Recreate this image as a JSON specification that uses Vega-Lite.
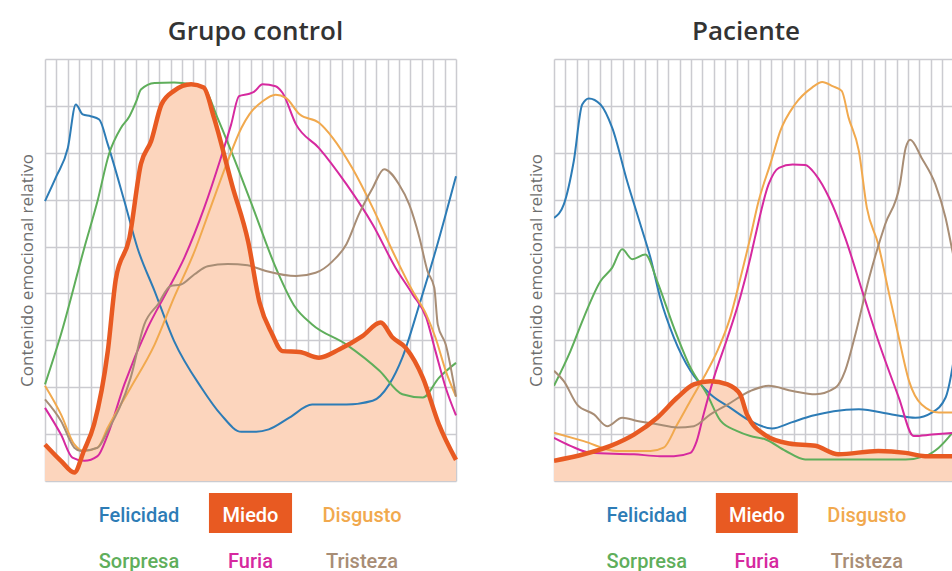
{
  "$schema": "https://vega.github.io/schema/vega-lite/v6.json",
  "background": "white",
  "padding": {"left": 18, "top": 19, "right": 0, "bottom": 0},
  "config": {
    "view": {"stroke": null},
    "font": "Open Sans",
    "axis": {"labels": false, "ticks": false, "domain": false, "grid": true, "gridColor": "#cbcbd0", "gridWidth": 1.5, "minExtent": 0, "maxExtent": 0},
    "axisY": {"titleFont": "Open Sans", "titleFontSize": 17, "titleFontWeight": "normal", "titleColor": "#6e6e6e", "titlePadding": 9}
  },
  "datasets": {
    "control": [
      {"emocion":"Felicidad","t":0,"valor":5.97},{"emocion":"Felicidad","t":1,"valor":6.5},{"emocion":"Felicidad","t":2,"valor":7.1},{"emocion":"Felicidad","t":2.7,"valor":8.03},{"emocion":"Felicidad","t":3.3,"valor":7.82},{"emocion":"Felicidad","t":4,"valor":7.78},{"emocion":"Felicidad","t":4.75,"valor":7.71},{"emocion":"Felicidad","t":5.5,"valor":7.18},{"emocion":"Felicidad","t":6.95,"valor":5.97},{"emocion":"Felicidad","t":8.1,"valor":4.97},{"emocion":"Felicidad","t":9.6,"valor":4.05},{"emocion":"Felicidad","t":11.3,"valor":2.99},{"emocion":"Felicidad","t":13.7,"valor":1.99},{"emocion":"Felicidad","t":15.4,"valor":1.42},{"emocion":"Felicidad","t":17.2,"valor":1.05},{"emocion":"Felicidad","t":18.5,"valor":1.05},{"emocion":"Felicidad","t":19.6,"valor":1.1},{"emocion":"Felicidad","t":21.4,"valor":1.35},{"emocion":"Felicidad","t":23.4,"valor":1.63},{"emocion":"Felicidad","t":26.4,"valor":1.63},{"emocion":"Felicidad","t":28.7,"valor":1.71},{"emocion":"Felicidad","t":30.15,"valor":2.06},{"emocion":"Felicidad","t":31.3,"valor":2.63},{"emocion":"Felicidad","t":32.8,"valor":3.77},{"emocion":"Felicidad","t":34.2,"valor":4.9},{"emocion":"Felicidad","t":36,"valor":6.5},
      {"emocion":"Miedo","t":0,"valor":0.78},{"emocion":"Miedo","t":1.4,"valor":0.43},{"emocion":"Miedo","t":2.57,"valor":0.18},{"emocion":"Miedo","t":3.4,"valor":0.64},{"emocion":"Miedo","t":4.3,"valor":1.21},{"emocion":"Miedo","t":5.5,"valor":2.77},{"emocion":"Miedo","t":6.2,"valor":4.3},{"emocion":"Miedo","t":7.4,"valor":5.19},{"emocion":"Miedo","t":8.4,"valor":6.76},{"emocion":"Miedo","t":9.3,"valor":7.25},{"emocion":"Miedo","t":10.2,"valor":8.03},{"emocion":"Miedo","t":11.3,"valor":8.32},{"emocion":"Miedo","t":12.8,"valor":8.46},{"emocion":"Miedo","t":13.9,"valor":8.39},{"emocion":"Miedo","t":14.8,"valor":7.75},{"emocion":"Miedo","t":16.4,"valor":6.3},{"emocion":"Miedo","t":17.8,"valor":5.1},{"emocion":"Miedo","t":18.8,"valor":3.8},{"emocion":"Miedo","t":19.9,"valor":3.13},{"emocion":"Miedo","t":20.8,"valor":2.77},{"emocion":"Miedo","t":22.3,"valor":2.75},{"emocion":"Miedo","t":24,"valor":2.63},{"emocion":"Miedo","t":25.8,"valor":2.81},{"emocion":"Miedo","t":27.8,"valor":3.09},{"emocion":"Miedo","t":29.4,"valor":3.38},{"emocion":"Miedo","t":30.45,"valor":3.06},{"emocion":"Miedo","t":31.6,"valor":2.84},{"emocion":"Miedo","t":33.1,"valor":2.2},{"emocion":"Miedo","t":34.5,"valor":1.21},{"emocion":"Miedo","t":36,"valor":0.45},
      {"emocion":"Sorpresa","t":0,"valor":2.06},{"emocion":"Sorpresa","t":1.4,"valor":3.13},{"emocion":"Sorpresa","t":3.44,"valor":4.97},{"emocion":"Sorpresa","t":4.6,"valor":5.97},{"emocion":"Sorpresa","t":5.6,"valor":6.97},{"emocion":"Sorpresa","t":6.65,"valor":7.53},{"emocion":"Sorpresa","t":7.4,"valor":7.78},{"emocion":"Sorpresa","t":8,"valor":8.1},{"emocion":"Sorpresa","t":8.4,"valor":8.35},{"emocion":"Sorpresa","t":9.6,"valor":8.49},{"emocion":"Sorpresa","t":11.3,"valor":8.5},{"emocion":"Sorpresa","t":12.8,"valor":8.46},{"emocion":"Sorpresa","t":13.9,"valor":8.39},{"emocion":"Sorpresa","t":15.1,"valor":7.75},{"emocion":"Sorpresa","t":16.3,"valor":7.04},{"emocion":"Sorpresa","t":18,"valor":5.97},{"emocion":"Sorpresa","t":20.3,"valor":4.5},{"emocion":"Sorpresa","t":21.8,"valor":3.75},{"emocion":"Sorpresa","t":23.4,"valor":3.34},{"emocion":"Sorpresa","t":26.4,"valor":2.91},{"emocion":"Sorpresa","t":29.3,"valor":2.35},{"emocion":"Sorpresa","t":31.3,"valor":1.85},{"emocion":"Sorpresa","t":33.1,"valor":1.78},{"emocion":"Sorpresa","t":34.5,"valor":2.2},{"emocion":"Sorpresa","t":36,"valor":2.52},
      {"emocion":"Furia","t":0,"valor":1.56},{"emocion":"Furia","t":1.4,"valor":0.99},{"emocion":"Furia","t":2.4,"valor":0.5},{"emocion":"Furia","t":3.44,"valor":0.43},{"emocion":"Furia","t":4.6,"valor":0.53},{"emocion":"Furia","t":5.5,"valor":0.99},{"emocion":"Furia","t":6.95,"valor":2.06},{"emocion":"Furia","t":9,"valor":3.27},{"emocion":"Furia","t":10.7,"valor":4.05},{"emocion":"Furia","t":12.2,"valor":4.76},{"emocion":"Furia","t":13.95,"valor":5.83},{"emocion":"Furia","t":15.4,"valor":6.89},{"emocion":"Furia","t":16.3,"valor":7.6},{"emocion":"Furia","t":17,"valor":8.21},{"emocion":"Furia","t":17.9,"valor":8.26},{"emocion":"Furia","t":18.3,"valor":8.3},{"emocion":"Furia","t":19.06,"valor":8.46},{"emocion":"Furia","t":20.2,"valor":8.42},{"emocion":"Furia","t":20.8,"valor":8.28},{"emocion":"Furia","t":22,"valor":7.6},{"emocion":"Furia","t":24,"valor":7.1},{"emocion":"Furia","t":26.4,"valor":6.33},{"emocion":"Furia","t":28.7,"valor":5.47},{"emocion":"Furia","t":30.7,"valor":4.55},{"emocion":"Furia","t":32.2,"valor":3.98},{"emocion":"Furia","t":33.4,"valor":3.48},{"emocion":"Furia","t":34.2,"valor":2.77},{"emocion":"Furia","t":35.1,"valor":1.99},{"emocion":"Furia","t":36,"valor":1.4},
      {"emocion":"Disgusto","t":0,"valor":2.03},{"emocion":"Disgusto","t":1.4,"valor":1.42},{"emocion":"Disgusto","t":2.57,"valor":0.78},{"emocion":"Disgusto","t":3.44,"valor":0.64},{"emocion":"Disgusto","t":4.6,"valor":0.71},{"emocion":"Disgusto","t":5.5,"valor":1.14},{"emocion":"Disgusto","t":7.5,"valor":1.99},{"emocion":"Disgusto","t":9.6,"valor":2.91},{"emocion":"Disgusto","t":11.3,"valor":3.91},{"emocion":"Disgusto","t":13.1,"valor":4.9},{"emocion":"Disgusto","t":14.5,"valor":5.83},{"emocion":"Disgusto","t":16,"valor":6.82},{"emocion":"Disgusto","t":17.2,"valor":7.53},{"emocion":"Disgusto","t":17.9,"valor":7.82},{"emocion":"Disgusto","t":19.06,"valor":8.1},{"emocion":"Disgusto","t":20.2,"valor":8.24},{"emocion":"Disgusto","t":21.1,"valor":8.17},{"emocion":"Disgusto","t":22.3,"valor":7.82},{"emocion":"Disgusto","t":24,"valor":7.64},{"emocion":"Disgusto","t":25.2,"valor":7.32},{"emocion":"Disgusto","t":26.9,"valor":6.68},{"emocion":"Disgusto","t":28.7,"valor":5.83},{"emocion":"Disgusto","t":30.45,"valor":4.9},{"emocion":"Disgusto","t":32.2,"valor":4.05},{"emocion":"Disgusto","t":33.4,"valor":3.55},{"emocion":"Disgusto","t":34.2,"valor":3.06},{"emocion":"Disgusto","t":35.1,"valor":2.35},{"emocion":"Disgusto","t":36,"valor":1.8},
      {"emocion":"Tristeza","t":0,"valor":1.74},{"emocion":"Tristeza","t":1.4,"valor":1.28},{"emocion":"Tristeza","t":2.57,"valor":0.71},{"emocion":"Tristeza","t":3.15,"valor":0.64},{"emocion":"Tristeza","t":4.6,"valor":0.71},{"emocion":"Tristeza","t":5.5,"valor":1.07},{"emocion":"Tristeza","t":7.5,"valor":2.2},{"emocion":"Tristeza","t":8.7,"valor":3.34},{"emocion":"Tristeza","t":9.9,"valor":3.77},{"emocion":"Tristeza","t":11,"valor":4.16},{"emocion":"Tristeza","t":11.9,"valor":4.19},{"emocion":"Tristeza","t":13.1,"valor":4.41},{"emocion":"Tristeza","t":14.25,"valor":4.58},{"emocion":"Tristeza","t":16,"valor":4.63},{"emocion":"Tristeza","t":17.75,"valor":4.6},{"emocion":"Tristeza","t":19.35,"valor":4.48},{"emocion":"Tristeza","t":22,"valor":4.37},{"emocion":"Tristeza","t":23.7,"valor":4.44},{"emocion":"Tristeza","t":25.2,"valor":4.69},{"emocion":"Tristeza","t":26.4,"valor":5.05},{"emocion":"Tristeza","t":27.5,"valor":5.69},{"emocion":"Tristeza","t":28.7,"valor":6.25},{"emocion":"Tristeza","t":29.7,"valor":6.65},{"emocion":"Tristeza","t":31,"valor":6.33},{"emocion":"Tristeza","t":31.9,"valor":5.9},{"emocion":"Tristeza","t":32.8,"valor":5.19},{"emocion":"Tristeza","t":33.5,"valor":4.48},{"emocion":"Tristeza","t":34.1,"valor":4.12},{"emocion":"Tristeza","t":34.4,"valor":3.34},{"emocion":"Tristeza","t":35.1,"valor":2.91},{"emocion":"Tristeza","t":36,"valor":1.8}
    ],
    "paciente": [
      {"emocion":"Felicidad","t":0,"valor":5.61},{"emocion":"Felicidad","t":0.86,"valor":5.9},{"emocion":"Felicidad","t":1.73,"valor":6.82},{"emocion":"Felicidad","t":2.47,"valor":8.03},{"emocion":"Felicidad","t":3.05,"valor":8.16},{"emocion":"Felicidad","t":4.07,"valor":8.03},{"emocion":"Felicidad","t":5.1,"valor":7.53},{"emocion":"Felicidad","t":6.4,"valor":6.4},{"emocion":"Felicidad","t":7.57,"valor":5.47},{"emocion":"Felicidad","t":8.45,"valor":4.76},{"emocion":"Felicidad","t":9.3,"valor":3.91},{"emocion":"Felicidad","t":10.5,"valor":3.06},{"emocion":"Felicidad","t":11.95,"valor":2.35},{"emocion":"Felicidad","t":13.7,"valor":1.85},{"emocion":"Felicidad","t":15.45,"valor":1.56},{"emocion":"Felicidad","t":17.2,"valor":1.28},{"emocion":"Felicidad","t":19.1,"valor":1.12},{"emocion":"Felicidad","t":20.8,"valor":1.25},{"emocion":"Felicidad","t":22.6,"valor":1.39},{"emocion":"Felicidad","t":24.5,"valor":1.49},{"emocion":"Felicidad","t":26.7,"valor":1.53},{"emocion":"Felicidad","t":29.6,"valor":1.42},{"emocion":"Felicidad","t":31.65,"valor":1.35},{"emocion":"Felicidad","t":33.1,"valor":1.46},{"emocion":"Felicidad","t":34.3,"valor":1.78},{"emocion":"Felicidad","t":34.9,"valor":2.42},{"emocion":"Felicidad","t":35.5,"valor":3.5},{"emocion":"Felicidad","t":36,"valor":4.5},
      {"emocion":"Miedo","t":0,"valor":0.43},{"emocion":"Miedo","t":2.6,"valor":0.57},{"emocion":"Miedo","t":4.95,"valor":0.75},{"emocion":"Miedo","t":7,"valor":0.99},{"emocion":"Miedo","t":9.04,"valor":1.35},{"emocion":"Miedo","t":10.8,"valor":1.78},{"emocion":"Miedo","t":12.25,"valor":2.06},{"emocion":"Miedo","t":13.7,"valor":2.13},{"emocion":"Miedo","t":15.2,"valor":2.06},{"emocion":"Miedo","t":16.3,"valor":1.85},{"emocion":"Miedo","t":16.9,"valor":1.42},{"emocion":"Miedo","t":18.5,"valor":0.98},{"emocion":"Miedo","t":20.6,"valor":0.8},{"emocion":"Miedo","t":22.9,"valor":0.75},{"emocion":"Miedo","t":24.9,"valor":0.57},{"emocion":"Miedo","t":28.4,"valor":0.64},{"emocion":"Miedo","t":30.8,"valor":0.6},{"emocion":"Miedo","t":32.5,"valor":0.53},{"emocion":"Miedo","t":36,"valor":0.53},
      {"emocion":"Sorpresa","t":0,"valor":2.03},{"emocion":"Sorpresa","t":1.44,"valor":2.77},{"emocion":"Sorpresa","t":2.6,"valor":3.48},{"emocion":"Sorpresa","t":4.07,"valor":4.26},{"emocion":"Sorpresa","t":5.1,"valor":4.55},{"emocion":"Sorpresa","t":5.97,"valor":4.94},{"emocion":"Sorpresa","t":6.85,"valor":4.73},{"emocion":"Sorpresa","t":8,"valor":4.83},{"emocion":"Sorpresa","t":9.04,"valor":4.26},{"emocion":"Sorpresa","t":10.5,"valor":3.27},{"emocion":"Sorpresa","t":11.95,"valor":2.42},{"emocion":"Sorpresa","t":13.4,"valor":1.85},{"emocion":"Sorpresa","t":14.6,"valor":1.28},{"emocion":"Sorpresa","t":16,"valor":1.07},{"emocion":"Sorpresa","t":17.2,"valor":0.96},{"emocion":"Sorpresa","t":18.5,"valor":0.89},{"emocion":"Sorpresa","t":20.3,"valor":0.64},{"emocion":"Sorpresa","t":22,"valor":0.46},{"emocion":"Sorpresa","t":25.5,"valor":0.46},{"emocion":"Sorpresa","t":30.8,"valor":0.46},{"emocion":"Sorpresa","t":32.5,"valor":0.53},{"emocion":"Sorpresa","t":33.7,"valor":0.71},{"emocion":"Sorpresa","t":34.9,"valor":1.03},{"emocion":"Sorpresa","t":36,"valor":1.4},
      {"emocion":"Furia","t":0,"valor":0.92},{"emocion":"Furia","t":1.44,"valor":0.75},{"emocion":"Furia","t":3.2,"valor":0.6},{"emocion":"Furia","t":7,"valor":0.57},{"emocion":"Furia","t":9.3,"valor":0.53},{"emocion":"Furia","t":10.5,"valor":0.53},{"emocion":"Furia","t":11.95,"valor":0.6},{"emocion":"Furia","t":12.5,"valor":0.85},{"emocion":"Furia","t":13.1,"valor":1.42},{"emocion":"Furia","t":14,"valor":2.2},{"emocion":"Furia","t":15.2,"valor":3.06},{"emocion":"Furia","t":16.3,"valor":3.91},{"emocion":"Furia","t":17.2,"valor":4.76},{"emocion":"Furia","t":17.6,"valor":5.19},{"emocion":"Furia","t":18.8,"valor":6.33},{"emocion":"Furia","t":19.7,"valor":6.68},{"emocion":"Furia","t":20.9,"valor":6.75},{"emocion":"Furia","t":22,"valor":6.74},{"emocion":"Furia","t":22.9,"valor":6.54},{"emocion":"Furia","t":24.1,"valor":6.04},{"emocion":"Furia","t":25.5,"valor":5.19},{"emocion":"Furia","t":27,"valor":4.05},{"emocion":"Furia","t":28.4,"valor":2.99},{"emocion":"Furia","t":30.2,"valor":1.78},{"emocion":"Furia","t":31.5,"valor":0.96},{"emocion":"Furia","t":33.1,"valor":0.99},{"emocion":"Furia","t":36,"valor":1.05},
      {"emocion":"Disgusto","t":0,"valor":1.03},{"emocion":"Disgusto","t":2.6,"valor":0.85},{"emocion":"Disgusto","t":5.5,"valor":0.64},{"emocion":"Disgusto","t":8.45,"valor":0.64},{"emocion":"Disgusto","t":9.6,"valor":0.71},{"emocion":"Disgusto","t":10.8,"valor":1.21},{"emocion":"Disgusto","t":11.95,"valor":1.71},{"emocion":"Disgusto","t":13.1,"valor":2.2},{"emocion":"Disgusto","t":14.3,"valor":2.77},{"emocion":"Disgusto","t":15.45,"valor":3.5},{"emocion":"Disgusto","t":16.3,"valor":4.3},{"emocion":"Disgusto","t":17.2,"valor":5.2},{"emocion":"Disgusto","t":17.9,"valor":5.95},{"emocion":"Disgusto","t":19,"valor":6.8},{"emocion":"Disgusto","t":19.8,"valor":7.45},{"emocion":"Disgusto","t":21.1,"valor":8.03},{"emocion":"Disgusto","t":22.6,"valor":8.39},{"emocion":"Disgusto","t":23.5,"valor":8.51},{"emocion":"Disgusto","t":24.4,"valor":8.42},{"emocion":"Disgusto","t":25.2,"valor":8.32},{"emocion":"Disgusto","t":25.8,"valor":7.75},{"emocion":"Disgusto","t":26.7,"valor":7.04},{"emocion":"Disgusto","t":27.4,"valor":5.83},{"emocion":"Disgusto","t":28.4,"valor":5.05},{"emocion":"Disgusto","t":29.3,"valor":4.05},{"emocion":"Disgusto","t":30.2,"valor":3.06},{"emocion":"Disgusto","t":31.1,"valor":2.13},{"emocion":"Disgusto","t":32.2,"valor":1.63},{"emocion":"Disgusto","t":33.7,"valor":1.46},{"emocion":"Disgusto","t":36,"valor":1.46},
      {"emocion":"Tristeza","t":0,"valor":2.35},{"emocion":"Tristeza","t":0.86,"valor":2.13},{"emocion":"Tristeza","t":2.03,"valor":1.63},{"emocion":"Tristeza","t":3.5,"valor":1.42},{"emocion":"Tristeza","t":4.66,"valor":1.17},{"emocion":"Tristeza","t":5.97,"valor":1.35},{"emocion":"Tristeza","t":7.3,"valor":1.28},{"emocion":"Tristeza","t":9.04,"valor":1.21},{"emocion":"Tristeza","t":10.8,"valor":1.14},{"emocion":"Tristeza","t":12.25,"valor":1.17},{"emocion":"Tristeza","t":13.7,"valor":1.42},{"emocion":"Tristeza","t":15.2,"valor":1.63},{"emocion":"Tristeza","t":17.2,"valor":1.92},{"emocion":"Tristeza","t":18.8,"valor":2.03},{"emocion":"Tristeza","t":20.9,"valor":1.92},{"emocion":"Tristeza","t":22.9,"valor":1.85},{"emocion":"Tristeza","t":24.65,"valor":1.99},{"emocion":"Tristeza","t":25.5,"valor":2.35},{"emocion":"Tristeza","t":26.4,"valor":3.13},{"emocion":"Tristeza","t":27.6,"valor":4.33},{"emocion":"Tristeza","t":29,"valor":5.47},{"emocion":"Tristeza","t":30.3,"valor":6.33},{"emocion":"Tristeza","t":30.8,"valor":7.1},{"emocion":"Tristeza","t":31.2,"valor":7.28},{"emocion":"Tristeza","t":32.2,"valor":6.89},{"emocion":"Tristeza","t":33.4,"valor":6.33},{"emocion":"Tristeza","t":34.3,"valor":5.61},{"emocion":"Tristeza","t":34.9,"valor":4.9},{"emocion":"Tristeza","t":36,"valor":3.6}
    ],
    "fila1": [{"emocion":"Felicidad"},{"emocion":"Miedo"},{"emocion":"Disgusto"}],
    "fila2": [{"emocion":"Sorpresa"},{"emocion":"Furia"},{"emocion":"Tristeza"}]
  },
  "hconcat": [
    {
      "vconcat": [
        {
          "title": {"text": "Grupo control", "font": "Open Sans", "fontSize": 26, "fontWeight": 600, "color": "#333333", "offset": 14, "dx": 5},
          "width": 411, "height": 422,
          "data": {"name": "control"},
          "encoding": {
            "x": {"field": "t", "type": "quantitative", "scale": {"domain": [0, 36], "nice": false, "zero": false}, "axis": {"title": null, "values": [0,1,2,3,4,5,6,7,8,9,10,11,12,13,14,15,16,17,18,19,20,21,22,23,24,25,26,27,28,29,30,31,32,33,34,35,36]}},
            "y": {"field": "valor", "type": "quantitative", "scale": {"domain": [0, 9], "nice": false}, "axis": {"title": "Contenido emocional relativo", "values": [0,1,2,3,4,5,6,7,8,9]}}
          },
          "layer": [
            {"transform": [{"filter": "datum.emocion === 'Miedo'"}], "mark": {"type": "area", "interpolate": "monotone", "color": "#fcd5bd"}},
            {"transform": [{"filter": "datum.emocion !== 'Miedo'"}], "mark": {"type": "line", "interpolate": "monotone", "strokeWidth": 2},
             "encoding": {"color": {"field": "emocion", "type": "nominal", "legend": null, "scale": {"domain": ["Felicidad","Miedo","Disgusto","Sorpresa","Furia","Tristeza"], "range": ["#2d7cb6","#e85a22","#f1a94e","#5fae5b","#d6299f","#a88d75"]}}}},
            {"transform": [{"filter": "datum.emocion === 'Miedo'"}], "mark": {"type": "line", "interpolate": "monotone", "strokeWidth": 4.5, "color": "#e85a22"}}
          ]
        },
        {
          "width": 411, "height": 40,
          "data": {"name": "fila1"},
          "encoding": {"x": {"field": "emocion", "type": "nominal", "axis": null, "scale": {"type": "band", "domain": ["Felicidad","Miedo","Disgusto"], "paddingInner": 0.255, "paddingOuter": 0.47}}},
          "layer": [
            {"transform": [{"filter": "datum.emocion === 'Miedo'"}], "mark": {"type": "rect", "color": "#e85a22"}},
            {"mark": {"type": "text", "font": "Roboto", "fontSize": 20, "fontWeight": 500, "dy": 3},
             "encoding": {"text": {"field": "emocion"}, "color": {"condition": {"test": "datum.emocion === 'Miedo'", "value": "#ffffff"}, "field": "emocion", "type": "nominal", "legend": null, "scale": {"domain": ["Felicidad","Miedo","Disgusto","Sorpresa","Furia","Tristeza"], "range": ["#2d7cb6","#e85a22","#f1ad5e","#5fae5b","#d6299f","#a88d75"]}}}}
          ]
        },
        {
          "width": 411, "height": 27,
          "data": {"name": "fila2"},
          "mark": {"type": "text", "font": "Roboto", "fontSize": 20, "fontWeight": 500, "dy": 3},
          "encoding": {"x": {"field": "emocion", "type": "nominal", "axis": null, "scale": {"type": "band", "domain": ["Sorpresa","Furia","Tristeza"], "paddingInner": 0.255, "paddingOuter": 0.47}}, "text": {"field": "emocion"}, "color": {"field": "emocion", "type": "nominal", "legend": null, "scale": {"domain": ["Felicidad","Miedo","Disgusto","Sorpresa","Furia","Tristeza"], "range": ["#2d7cb6","#e85a22","#f1ad5e","#5fae5b","#d6299f","#a88d75"]}}}
        }
      ],
      "spacing": 12,
      "bounds": "flush"
    },
    {
      "vconcat": [
        {
          "title": {"text": "Paciente", "font": "Open Sans", "fontSize": 26, "fontWeight": 600, "color": "#333333", "offset": 14, "dx": -7},
          "width": 398, "height": 422,
          "data": {"name": "paciente"},
          "encoding": {
            "x": {"field": "t", "type": "quantitative", "scale": {"domain": [0, 34.86], "nice": false, "zero": false}, "axis": {"title": null, "values": [0,1,2,3,4,5,6,7,8,9,10,11,12,13,14,15,16,17,18,19,20,21,22,23,24,25,26,27,28,29,30,31,32,33,34]}},
            "y": {"field": "valor", "type": "quantitative", "scale": {"domain": [0, 9], "nice": false}, "axis": {"title": "Contenido emocional relativo", "values": [0,1,2,3,4,5,6,7,8,9]}}
          },
          "layer": [
            {"transform": [{"filter": "datum.emocion === 'Miedo'"}], "mark": {"type": "area", "interpolate": "monotone", "color": "#fcd5bd", "clip": true}},
            {"transform": [{"filter": "datum.emocion !== 'Miedo'"}], "mark": {"type": "line", "interpolate": "monotone", "strokeWidth": 2, "clip": true},
             "encoding": {"color": {"field": "emocion", "type": "nominal", "legend": null, "scale": {"domain": ["Felicidad","Miedo","Disgusto","Sorpresa","Furia","Tristeza"], "range": ["#2d7cb6","#e85a22","#f1a94e","#5fae5b","#d6299f","#a88d75"]}}}},
            {"transform": [{"filter": "datum.emocion === 'Miedo'"}], "mark": {"type": "line", "interpolate": "monotone", "strokeWidth": 4.5, "color": "#e85a22", "clip": true}}
          ]
        },
        {
          "width": 398, "height": 40,
          "data": {"name": "fila1"},
          "encoding": {"x": {"field": "emocion", "type": "nominal", "axis": null, "scale": {"type": "band", "domain": ["Felicidad","Miedo","Disgusto"], "paddingInner": 0.255, "paddingOuter": 0.4366, "align": 0.54}}},
          "layer": [
            {"transform": [{"filter": "datum.emocion === 'Miedo'"}], "mark": {"type": "rect", "color": "#e85a22"}},
            {"mark": {"type": "text", "font": "Roboto", "fontSize": 20, "fontWeight": 500, "dy": 3},
             "encoding": {"text": {"field": "emocion"}, "color": {"condition": {"test": "datum.emocion === 'Miedo'", "value": "#ffffff"}, "field": "emocion", "type": "nominal", "legend": null, "scale": {"domain": ["Felicidad","Miedo","Disgusto","Sorpresa","Furia","Tristeza"], "range": ["#2d7cb6","#e85a22","#f1ad5e","#5fae5b","#d6299f","#a88d75"]}}}}
          ]
        },
        {
          "width": 398, "height": 27,
          "data": {"name": "fila2"},
          "mark": {"type": "text", "font": "Roboto", "fontSize": 20, "fontWeight": 500, "dy": 3},
          "encoding": {"x": {"field": "emocion", "type": "nominal", "axis": null, "scale": {"type": "band", "domain": ["Sorpresa","Furia","Tristeza"], "paddingInner": 0.255, "paddingOuter": 0.4366, "align": 0.54}}, "text": {"field": "emocion"}, "color": {"field": "emocion", "type": "nominal", "legend": null, "scale": {"domain": ["Felicidad","Miedo","Disgusto","Sorpresa","Furia","Tristeza"], "range": ["#2d7cb6","#e85a22","#f1ad5e","#5fae5b","#d6299f","#a88d75"]}}}
        }
      ],
      "spacing": 12,
      "bounds": "flush"
    }
  ],
  "spacing": 62
}
